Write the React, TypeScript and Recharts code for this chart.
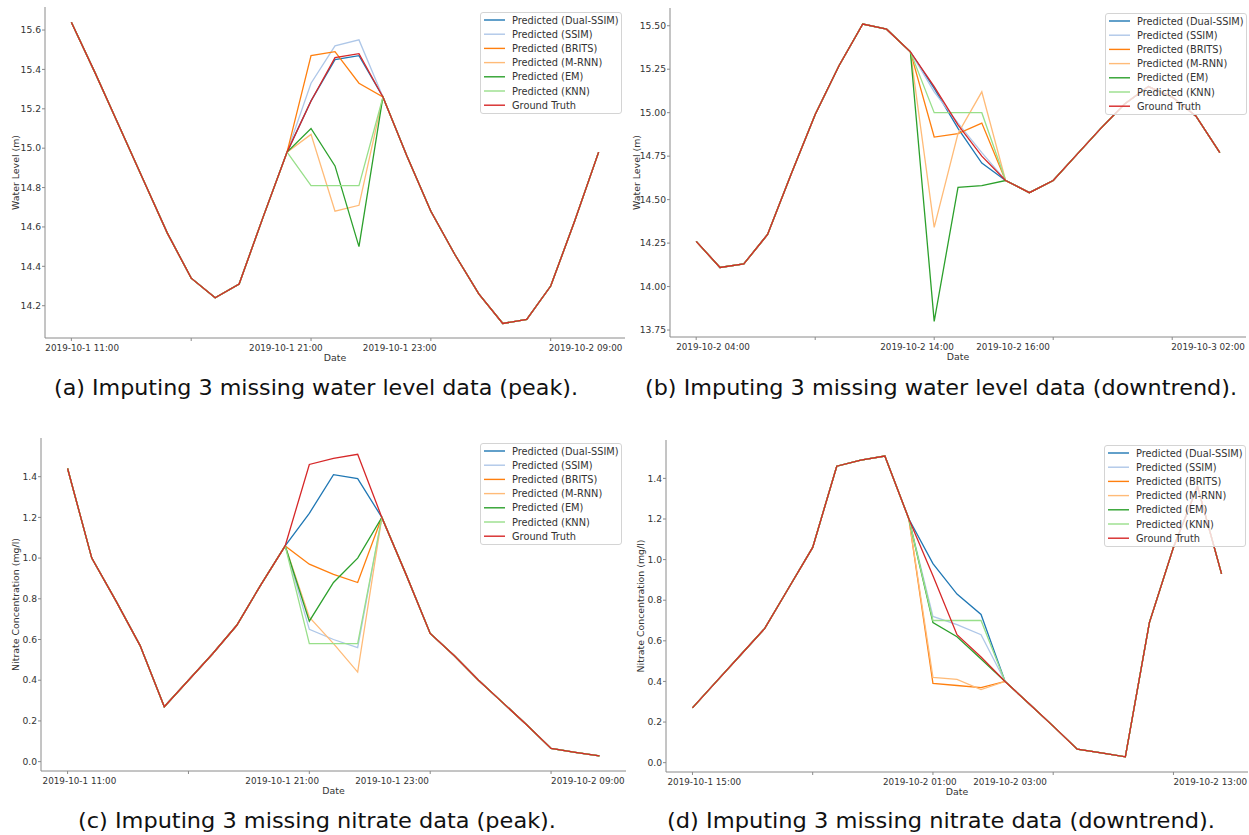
import React from "react";
import { LineChart, Line, XAxis, YAxis, Legend } from "recharts";

const FONT = "DejaVu Sans";
const CAPTION_FONT = "DejaVu Sans";

// hourly steps on the x axis, same for every panel
const steps = Array.from({ length: 23 }, (_, i) => i);
const xTicks = [0, 5, 10, 15, 20];
const gapSteps = [10, 11, 12];

// (a) water level, peak
const levelPeakDates = ["2019-10-1 11:00", "", "2019-10-1 21:00", "2019-10-1 23:00", "2019-10-2 09:00"];
const levelPeakTruth = [15.64, 15.38, 15.11, 14.84, 14.57, 14.34, 14.24, 14.31, 14.65, 14.98, 15.24, 15.46, 15.48, 15.26, 14.96, 14.68, 14.46, 14.26, 14.11, 14.13, 14.3, 14.63, 14.98];
const levelPeakDual = [15.24, 15.45, 15.47];
const levelPeakSsim = [15.33, 15.52, 15.55];
const levelPeakBrits = [15.47, 15.49, 15.33];
const levelPeakMrnn = [15.07, 14.68, 14.71];
const levelPeakEm = [15.1, 14.91, 14.5];
const levelPeakKnn = [14.81, 14.81, 14.81];
const levelPeakYTicks = [14.2, 14.4, 14.6, 14.8, 15.0, 15.2, 15.4, 15.6];

// (b) water level, downtrend
const levelDownDates = ["2019-10-2 04:00", "", "2019-10-2 14:00", "2019-10-2 16:00", "2019-10-3 02:00"];
const levelDownTruth = [14.26, 14.11, 14.13, 14.3, 14.65, 14.99, 15.27, 15.51, 15.48, 15.35, 15.15, 14.93, 14.75, 14.61, 14.54, 14.61, 14.76, 14.91, 15.05, 15.15, 15.09, 14.98, 14.77];
const levelDownDual = [15.14, 14.91, 14.71];
const levelDownSsim = [15.12, 14.94, 14.77];
const levelDownBrits = [14.86, 14.88, 14.94];
const levelDownMrnn = [14.34, 14.88, 15.12];
const levelDownEm = [13.8, 14.57, 14.58];
const levelDownKnn = [15.0, 15.0, 15.0];
const levelDownYTicks = [13.75, 14.0, 14.25, 14.5, 14.75, 15.0, 15.25, 15.5];

// (c) nitrate, peak
const nitratePeakDates = ["2019-10-1 11:00", "", "2019-10-1 21:00", "2019-10-1 23:00", "2019-10-2 09:00"];
const nitratePeakTruth = [1.44, 1.0, 0.79, 0.57, 0.27, 0.4, 0.53, 0.67, 0.87, 1.06, 1.46, 1.49, 1.51, 1.2, 0.92, 0.63, 0.52, 0.4, 0.29, 0.18, 0.065, 0.046, 0.028];
const nitratePeakDual = [1.22, 1.41, 1.39];
const nitratePeakSsim = [0.65, 0.6, 0.56];
const nitratePeakBrits = [0.97, 0.92, 0.88];
const nitratePeakMrnn = [0.71, 0.58, 0.44];
const nitratePeakEm = [0.69, 0.88, 1.0];
const nitratePeakKnn = [0.58, 0.58, 0.58];

// (d) nitrate, downtrend
const nitrateDownDates = ["2019-10-1 15:00", "", "2019-10-2 01:00", "2019-10-2 03:00", "2019-10-2 13:00"];
const nitrateDownTruth = [0.27, 0.4, 0.53, 0.66, 0.86, 1.06, 1.46, 1.49, 1.51, 1.2, 0.92, 0.63, 0.52, 0.4, 0.29, 0.18, 0.066, 0.048, 0.029, 0.69, 1.06, 1.36, 0.93];
const nitrateDownDual = [0.98, 0.83, 0.73];
const nitrateDownSsim = [0.72, 0.68, 0.63];
const nitrateDownBrits = [0.39, 0.38, 0.37];
const nitrateDownMrnn = [0.42, 0.41, 0.36];
const nitrateDownEm = [0.69, 0.62, 0.51];
const nitrateDownKnn = [0.7, 0.7, 0.7];

const nitrateYTicks = [0, 0.2, 0.4, 0.6, 0.8, 1.0, 1.2, 1.4];

const series = [
  { key: "dual", name: "Predicted (Dual-SSIM)", color: "#1f77b4" },
  { key: "ssim", name: "Predicted (SSIM)", color: "#aec7e8" },
  { key: "brits", name: "Predicted (BRITS)", color: "#ff7f0e" },
  { key: "mrnn", name: "Predicted (M-RNN)", color: "#ffbb78" },
  { key: "em", name: "Predicted (EM)", color: "#2ca02c" },
  { key: "knn", name: "Predicted (KNN)", color: "#98df8a" },
  { key: "truth", name: "Ground Truth", color: "#d62728" },
];

// predicted series follow the observed values outside the 3-step gap
function buildRows(truth: number[], preds: Record<string, number[]>) {
  return steps.map((s) => {
    const row: any = { step: s, truth: truth[s] };
    const g = gapSteps.indexOf(s);
    Object.keys(preds).forEach((k) => {
      row[k] = g >= 0 ? preds[k][g] : truth[s];
    });
    return row;
  });
}

const panels = [
  {
    id: "a",
    left: 0, top: 0, width: 625, height: 370, yw: 45, plotTop: 7, plotH: 331,
    rows: buildRows(levelPeakTruth, { dual: levelPeakDual, ssim: levelPeakSsim, brits: levelPeakBrits, mrnn: levelPeakMrnn, em: levelPeakEm, knn: levelPeakKnn }),
    dates: levelPeakDates, shifts: [-26, 0, -62, -68, -2],
    yDomain: [14.036, 15.717], yTicks: levelPeakYTicks, digits: 1,
    yTitle: "Water Level (m)", yTitleX: 15,
    legend: { x: 480, y: 12 },
    caption: "(a) Imputing 3 missing water level data (peak).", capX: 316, capY: 387, capW: 524,
  },
  {
    id: "b",
    left: 625, top: 0, width: 621, height: 370, yw: 45, plotTop: 8, plotH: 329,
    rows: buildRows(levelDownTruth, { dual: levelDownDual, ssim: levelDownSsim, brits: levelDownBrits, mrnn: levelDownMrnn, em: levelDownEm, knn: levelDownKnn }),
    dates: levelDownDates, shifts: [-20, 0, -54, -77, -1],
    yDomain: [13.71, 15.602], yTicks: levelDownYTicks, digits: 2,
    yTitle: "Water Level (m)", yTitleX: 11,
    legend: { x: 480, y: 13 },
    caption: "(b) Imputing 3 missing water level data (downtrend).", capX: 941, capY: 387, capW: 592,
  },
  {
    id: "c",
    left: 0, top: 415, width: 626, height: 390, yw: 41, plotTop: 23, plotH: 333,
    rows: buildRows(nitratePeakTruth, { dual: nitratePeakDual, ssim: nitratePeakSsim, brits: nitratePeakBrits, mrnn: nitratePeakMrnn, em: nitratePeakEm, knn: nitratePeakKnn }),
    dates: nitratePeakDates, shifts: [-25, 0, -64, -75, 0],
    yDomain: [-0.046, 1.59], yTicks: nitrateYTicks, digits: 1,
    yTitle: "Nitrate Concentration (mg/l)", yTitleX: 15,
    legend: { x: 480, y: 28 },
    caption: "(c) Imputing 3 missing nitrate data (peak).", capX: 317, capY: 820, capW: 478,
  },
  {
    id: "d",
    left: 625, top: 415, width: 623, height: 390, yw: 41, plotTop: 25, plotH: 332,
    rows: buildRows(nitrateDownTruth, { dual: nitrateDownDual, ssim: nitrateDownSsim, brits: nitrateDownBrits, mrnn: nitrateDownMrnn, em: nitrateDownEm, knn: nitrateDownKnn }),
    dates: nitrateDownDates, shifts: [-25, 0, -50, -80, 0],
    yDomain: [-0.046, 1.589], yTicks: nitrateYTicks, digits: 1,
    yTitle: "Nitrate Concentration (mg/l)", yTitleX: 15,
    legend: { x: 479, y: 30 },
    caption: "(d) Imputing 3 missing nitrate data (downtrend).", capX: 941, capY: 820, capW: 548,
  },
];

const SPINE = "#8a8a8a";
const INK = "#333";
const RIGHT_PAD = 8;

function DateTick(props: any) {
  const { x, y, payload, dates, shifts } = props;
  const i = xTicks.indexOf(payload.value);
  const label = dates[i];
  if (!label) return null;
  return (
    <text x={x + shifts[i]} y={y + 5} dominantBaseline="central" textAnchor="start" fontSize={8.8} fill={INK} fontFamily={FONT}>
      {label}
    </text>
  );
}

function Title(props: any) {
  const { words, tx, ty, rotate } = props;
  return (
    <text
      x={tx}
      y={ty}
      textAnchor="middle"
      dominantBaseline="central"
      fontSize={9.4}
      fill={INK}
      fontFamily={FONT}
      transform={rotate ? `rotate(-90 ${tx} ${ty})` : undefined}
    >
      {words}
    </text>
  );
}

function LegendBox() {
  const w = 142;
  const h = 102;
  return (
    <svg width={w} height={h} style={{ display: "block" }}>
      <rect x={0.5} y={0.5} width={w - 1} height={h - 1} rx={2.5} fill="rgba(255,255,255,0.8)" stroke="#d4d4d4" />
      {series.map((s, i) => {
        const cy = 8 + i * 14.2;
        return (
          <g key={s.key}>
            <line x1={4} x2={25} y1={cy} y2={cy} stroke={s.color} strokeWidth={1.4} />
            <text x={32} y={cy} dominantBaseline="central" fontSize={9.8} fill={INK} fontFamily={FONT}>
              {s.name}
            </text>
          </g>
        );
      })}
    </svg>
  );
}

function Panel({ p }: { p: any }) {
  const xh = p.height - p.plotTop - p.plotH;
  const plotLeft = p.yw;
  const plotRight = p.width;
  const plotBottom = p.plotTop + p.plotH;
  return (
    <div style={{ position: "absolute", left: p.left, top: p.top }}>
      <LineChart width={p.width + RIGHT_PAD} height={p.height} data={p.rows} margin={{ top: p.plotTop, right: RIGHT_PAD, bottom: 0, left: 0 }}>
        <XAxis
          type="number"
          dataKey="step"
          domain={[-1.1, 23.1]}
          ticks={xTicks}
          interval={0}
          allowDataOverflow
          height={xh}
          tickSize={3}
          tickMargin={2}
          axisLine={{ stroke: SPINE }}
          tickLine={{ stroke: SPINE }}
          tick={<DateTick dates={p.dates} shifts={p.shifts} />}
          label={<Title words="Date" tx={(plotLeft + plotRight) / 2} ty={plotBottom + 19} />}
        />
        <XAxis xAxisId="top" orientation="top" type="number" dataKey="step" domain={[-1.1, 23.1]} height={0} tick={false} tickLine={false} axisLine={{ stroke: SPINE }} />
        <YAxis
          type="number"
          domain={p.yDomain}
          ticks={p.yTicks}
          interval={0}
          allowDataOverflow
          width={p.yw}
          tickSize={3}
          tickMargin={1}
          axisLine={{ stroke: SPINE }}
          tickLine={{ stroke: SPINE }}
          tick={{ fontSize: 9.2, fill: INK, fontFamily: FONT }}
          tickFormatter={(v: number) => v.toFixed(p.digits)}
          label={<Title words={p.yTitle} tx={p.yTitleX} ty={(p.plotTop + plotBottom) / 2} rotate />}
        />
        <YAxis yAxisId="right" orientation="right" type="number" domain={p.yDomain} width={0} tick={false} tickLine={false} axisLine={{ stroke: SPINE }} />
        {series.map((s) => (
          <Line
            key={s.key}
            type="linear"
            dataKey={s.key}
            name={s.name}
            stroke={s.color}
            strokeWidth={1.3}
            dot={false}
            activeDot={false}
            isAnimationActive={false}
          />
        ))}
        <Legend
          layout="horizontal"
          verticalAlign="middle"
          align="center"
          content={() => <LegendBox />}
          wrapperStyle={{ left: p.legend.x, top: p.legend.y, width: 142, height: 102 }}
        />
      </LineChart>
    </div>
  );
}

export default function App() {
  return (
    <div style={{ position: "absolute", left: 0, top: 0, width: 1249, height: 835, background: "#fff", overflow: "hidden" }}>
      {panels.map((p) => (
        <Panel key={p.id} p={p} />
      ))}
      <svg width={1249} height={835} style={{ position: "absolute", left: 0, top: 0, pointerEvents: "none" }}>
        {panels.map((p) => (
          <text
            key={"cap" + p.id}
            x={p.capX}
            y={p.capY}
            textAnchor="middle"
            dominantBaseline="central"
            fontFamily={CAPTION_FONT}
            fontSize={22}
            fill="#111"
            textLength={p.capW}
            lengthAdjust="spacingAndGlyphs"
          >
            {p.caption}
          </text>
        ))}
      </svg>
    </div>
  );
}
